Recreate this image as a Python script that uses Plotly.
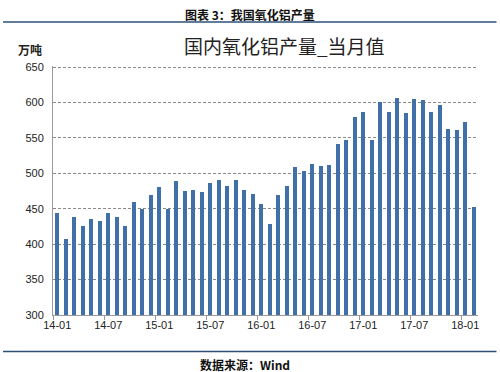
import plotly.graph_objects as go

months = []
for y in range(14, 19):
    for m in range(1, 13):
        months.append(f"{y:02d}-{m:02d}")
months = months[:50]  # 14-01 .. 18-02

values = [444, 407, 438, 425, 435, 432, 444, 439, 426, 459, 450, 469,
          481, 449, 489, 475, 476, 473, 486, 491, 482, 491, 477, 471,
          457, 429, 470, 482, 509, 503, 513, 511, 512, 542, 547, 580,
          586, 547, 601, 586, 606, 585, 605, 604, 587, 596, 563, 561,
          572, 452]

tick_labels = ["14-01", "14-07", "15-01", "15-07", "16-01", "16-07", "17-01", "17-07", "18-01"]
y_ticks = [300, 350, 400, 450, 500, 550, 600, 650]

xs = list(range(len(values)))
tick_pos = [months.index(t) for t in tick_labels]
minor_pos = [p - 0.5 for p in tick_pos]

fig = go.Figure()
fig.add_trace(go.Bar(x=xs, y=values, width=0.42, marker=dict(color="#4070A8", line=dict(width=0)),
                     hovertext=months))

fig.update_layout(
    width=500, height=372,
    margin=dict(l=53, r=21.5, t=66, b=57),
    paper_bgcolor="white", plot_bgcolor="white",
    showlegend=False,
    font=dict(family="Liberation Sans, Arial, sans-serif", size=11, color="#222"),
    bargap=0,
)
fig.update_xaxes(
    range=[-0.5, len(values) - 0.5],
    tickmode="array", tickvals=tick_pos, ticktext=tick_labels,
    ticks="", showgrid=False,
    showline=True, linecolor="#9a9a9a", linewidth=1,
    tickfont=dict(size=11, color="#222", family="Liberation Sans, Arial, sans-serif"),
    minor=dict(tickmode="array", tickvals=minor_pos, ticks="outside", ticklen=4, tickcolor="#9a9a9a", showgrid=False),
    zeroline=False,
)
fig.update_yaxes(
    range=[300, 651.5], tickmode="array", tickvals=y_ticks,
    showgrid=True, gridcolor="#8a8a8a", griddash="3px,2px", gridwidth=1,
    showline=True, linecolor="#9a9a9a", linewidth=1,
    ticks="", ticklabelstandoff=6,
    tickfont=dict(size=11, color="#222", family="Liberation Sans, Arial, sans-serif"),
    zeroline=False,
)

noto = "Noto Sans CJK SC, sans-serif"
H = 249  # plot height in px
def py(ypix):
    return (315 - ypix) / H
def px(xpix):
    return (xpix - 53) / 425.5

fig.add_annotation(text="<b>图表 3：我国氧化铝产量</b>", xref="paper", yref="paper",
                   x=px(250), y=py(14), showarrow=False,
                   font=dict(family=noto, size=12, color="#111"), xanchor="center", yanchor="middle")
fig.add_annotation(text="国内氧化铝产量_当月值", xref="paper", yref="paper",
                   x=px(285), y=py(45), showarrow=False,
                   font=dict(family=noto, size=19, color="#222"), xanchor="center", yanchor="middle")
fig.add_annotation(text="<b>万吨</b>", xref="paper", yref="paper",
                   x=px(30), y=py(49), showarrow=False,
                   font=dict(family=noto, size=12, color="#222"), xanchor="center", yanchor="middle")
fig.add_annotation(text="<b>数据来源：Wind</b>", xref="paper", yref="paper",
                   x=px(245), y=py(364), showarrow=False,
                   font=dict(family=noto, size=12, color="#111"), xanchor="center", yanchor="middle")

fig.add_shape(type="line", xref="paper", yref="paper",
              x0=px(3), x1=px(497), y0=py(22), y1=py(22),
              line=dict(color="#2C4F78", width=1.5))
fig.add_shape(type="line", xref="paper", yref="paper",
              x0=px(3), x1=px(497), y0=py(351.5), y1=py(351.5),
              line=dict(color="#2C4F78", width=1.5))

fig.write_html("out.html")
